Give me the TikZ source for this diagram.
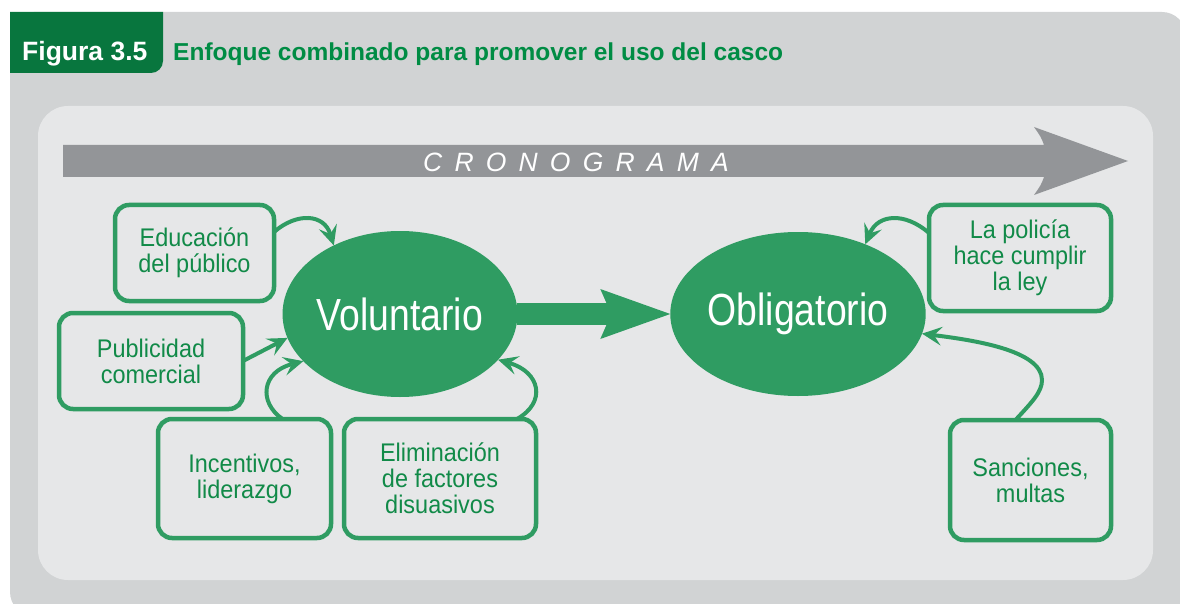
\documentclass[tikz,border=0pt]{standalone}
\usepackage{fontspec}
\setmainfont{Liberation Sans}
\newfontfamily\boxfont{Liberation Sans}[FakeStretch=0.92]
\newfontfamily\ellfont{Liberation Sans}[FakeStretch=0.83]
\newfontfamily\cronofont{Liberation Sans}[LetterSpace=46]
\usetikzlibrary{shapes.geometric,arrows.meta}
\definecolor{outergray}{HTML}{D1D3D4}
\definecolor{panelgray}{HTML}{E6E7E8}
\definecolor{tabgreen}{HTML}{08763E}
\definecolor{titlegreen}{HTML}{008C44}
\definecolor{mygreen}{HTML}{2F9C62}
\definecolor{textgreen}{HTML}{118A48}
\definecolor{bandgray}{HTML}{939598}
\tikzset{
  oval/.style={ellipse, fill=mygreen, text=white, inner sep=0pt, outer sep=0pt,
    font=\ellfont\fontsize{45}{50}\selectfont},
  stagebox/.style={draw=mygreen, line width=4.5pt, fill=panelgray, rounded corners=14pt,
    text=textgreen, align=center, inner sep=0pt, outer sep=0pt,
    font=\boxfont\fontsize{25.5}{26}\selectfont},
  conn/.style={draw=mygreen, line width=4pt,
    -{Stealth[length=20pt,width=19pt,inset=8pt,line width=0pt]}},
  bigconn/.style={draw=mygreen, line width=22pt,
    -{Stealth[length=70pt,width=50pt,inset=11pt,line width=0pt]}}
}
\begin{document}
\begin{tikzpicture}[x=1pt,y=-1pt]
\useasboundingbox (0,0) rectangle (1180,604);
\begin{scope}
  \clip (0,0) rectangle (1180,604);
  \fill[outergray, rounded corners=24pt] (10,12) rectangle (1186,616);
\end{scope}
\fill[panelgray, rounded corners=30pt] (38,106) rectangle (1153,580);
% tab
\fill[tabgreen] (10,12) -- (163,12) -- (163,61) arc[start angle=0,end angle=90,radius=12] -- (10,73) -- cycle;
\node[anchor=base west, text=white, inner sep=0pt, font=\bfseries\fontsize{26.5}{28}\selectfont] (fig) at (22,61) {Figura 3.5};
\node[anchor=base west, text=titlegreen, inner sep=0pt, font=\bfseries\fontsize{24.5}{28}\selectfont] (title) at (173,61) {Enfoque combinado para promover el uso del casco};
% timeline band
\fill[bandgray] (63,145) -- (1044,145) .. controls (1041,137) .. (1034,127) -- (1128,161) -- (1034,195) .. controls (1041,185) .. (1044,177) -- (63,177) -- cycle;
\node[anchor=base west, text=white, inner sep=0pt] (crono) at (423,172) {\cronofont\itshape\fontsize{26.5}{30}\selectfont CRONOGRAMA};
% ellipses
\node[oval, minimum width=234pt, minimum height=166pt] (vol) at (400,314) {Voluntario};
\node[oval, minimum width=240pt, minimum height=164pt] (obl) at (798,314) {Obligatorio};
\draw[bigconn] (vol.east) -- (obl.west);
% boxes
\node[stagebox, minimum width=159pt, minimum height=96pt] (edu) at (194.5,253) {Educación\\del público};
\node[stagebox, minimum width=184pt, minimum height=96pt] (pub) at (151,361) {Publicidad\\comercial};
\node[stagebox, minimum width=173pt, minimum height=119pt] (inc) at (244.5,478.5) {Incentivos,\\liderazgo};
\node[stagebox, minimum width=192pt, minimum height=119pt] (elim) at (440,478.5) {Eliminación\\de factores\\disuasivos};
\node[stagebox, minimum width=182pt, minimum height=106pt] (pol) at (1020,258) {La policía\\hace cumplir\\la ley};
\node[stagebox, minimum width=161pt, minimum height=120pt] (sanc) at (1030.5,480) {Sanciones,\\multas};
% connectors
\draw[conn] ([yshift=21pt]edu.east) .. controls (297,212) and (324,214) .. (vol.134);
\draw[conn] (pub.east) -- (vol.192);
\draw[conn] ([xshift=38pt]inc.north) .. controls (258,402) and (262,372) .. (vol.206);
\draw[conn] ([xshift=77pt]elim.north) .. controls (547,402) and (540,372) .. (vol.335);
\draw[conn] ([yshift=25pt]pol.west) .. controls (905,212) and (878,214) .. (obl.46);
\draw[conn] ([xshift=-15pt]sanc.north) .. controls (1032,402) and (1042,392) .. (1042,380) .. controls (1042,350) and (972,340) .. (obl.-9);
\end{tikzpicture}
\end{document}
